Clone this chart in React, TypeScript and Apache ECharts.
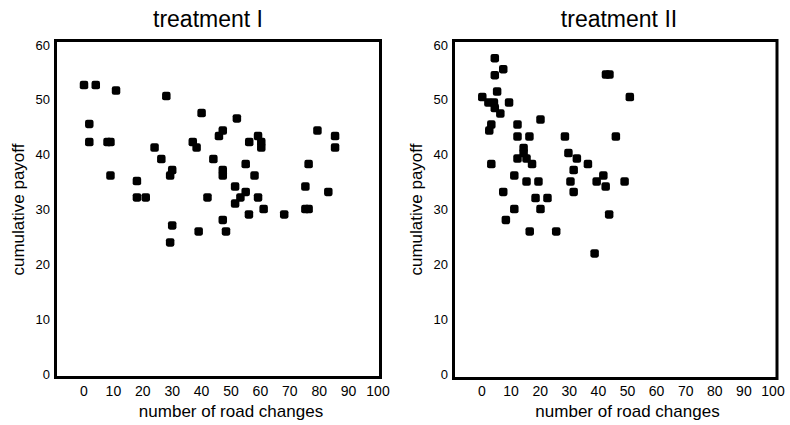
import React, { useEffect, useRef } from "react";
import * as echarts from "echarts";

const titles = ["treatment I", "treatment II"];
const xTickLabels = ["0", "10", "20", "30", "40", "50", "60", "70", "80", "90", "100"];
const yTickLabels = ["0", "10", "20", "30", "40", "50", "60"];
const xName = "number of road changes";
const yName = "cumulative payoff";

const treatment1: [number, number][] = [
  [0, 52.7], [4, 52.7], [10.9, 51.7], [28, 50.7], [1.8, 45.6], [1.8, 42.3], [8, 42.3], [9, 42.3],
  [24, 41.3], [26.3, 39.2], [30, 37.2], [29.3, 36.2], [9, 36.2], [18, 35.2], [40, 47.6], [52, 46.6],
  [37, 42.3], [38.3, 41.3], [47.2, 44.4], [45.9, 43.4], [44, 39.2], [47.2, 37.2], [47.2, 36.2],
  [56.2, 42.3], [59.2, 43.4], [60.3, 42.3], [60.3, 41.3], [55, 38.3], [58, 36.2], [79.4, 44.4],
  [85.4, 43.4], [85.4, 41.3], [76.4, 38.3], [51.4, 34.2], [75.3, 34.2], [83.1, 33.2], [55, 33.2],
  [18, 32.2], [21, 32.2], [42, 32.2], [53.2, 32.2], [59.2, 32.2], [51.4, 31.1], [61.1, 30.1],
  [75.3, 30.1], [76.4, 30.1], [56.1, 29.1], [68.1, 29.1], [47.2, 28.1], [30, 27.1], [39, 26],
  [48.3, 26], [29.3, 24],
];

const treatment2: [number, number][] = [
  [4.4, 57.6], [7.3, 55.6], [4.4, 54.5], [42.6, 54.6], [43.8, 54.6], [5.2, 51.5], [0.1, 50.5],
  [50.8, 50.5], [2.2, 49.5], [4.1, 49.5], [9.3, 49.5], [4.4, 48.5], [6.3, 47.5], [20.1, 46.4],
  [3.2, 45.5], [2.5, 44.4], [12.2, 45.5], [12.2, 43.3], [16.3, 43.3], [28.5, 43.3], [46, 43.3],
  [14.3, 41.2], [14.3, 40.3], [12.2, 39.3], [15.3, 39.3], [17.2, 38.3], [3.2, 38.3], [29.7, 40.3],
  [32.6, 39.3], [36.4, 38.3], [31.5, 37.2], [41.7, 36.2], [11.1, 36.2], [15.3, 35.1], [19.4, 35.1],
  [30.4, 35.1], [39.4, 35.1], [49, 35.1], [42.5, 34.2], [7.3, 33.2], [31.5, 33.2], [18.4, 32.1],
  [22.5, 32.1], [11.1, 30.1], [20.1, 30.1], [43.7, 29.1], [8.2, 28.1], [16.4, 26], [25.5, 26],
  [38.7, 22],
];

const FONT = "'Liberation Sans', Arial, sans-serif";

export default function App() {
  const ref = useRef<HTMLDivElement>(null);
  useEffect(() => {
    if (!ref.current) return;
    const chart = echarts.init(ref.current, undefined, { renderer: "svg" });
    const grids = [
      { left: 84, top: 45, width: 294, height: 331 },
      { left: 482, top: 45, width: 291, height: 331 },
    ];
    const frames = [
      { x: 55.5, y: 40.5, w: 325, h: 337 },
      { x: 453.5, y: 40.5, w: 323.5, h: 338 },
    ];
    const xMin = Number(xTickLabels[0]);
    const xMax = Number(xTickLabels[xTickLabels.length - 1]);
    const yMin = Number(yTickLabels[0]);
    const yMax = Number(yTickLabels[yTickLabels.length - 1]);
    const makeX = (i: number) => ({
      type: "value",
      gridIndex: i,
      min: xMin,
      max: xMax,
      interval: 10,
      name: xName,
      nameLocation: "middle",
      nameGap: 27,
      nameTextStyle: { fontFamily: FONT, fontSize: 17, color: "#000" },
      axisLine: { show: false },
      axisTick: { show: false },
      splitLine: { show: false },
      axisLabel: { margin: 10, fontFamily: FONT, fontSize: 14, color: "#000" },
    });
    const makeY = (i: number) => ({
      type: "value",
      gridIndex: i,
      min: yMin,
      max: yMax,
      interval: 10,
      name: yName,
      nameLocation: "middle",
      nameGap: 57,
      nameTextStyle: { fontFamily: FONT, fontSize: 17, color: "#000" },
      axisLine: { show: false },
      axisTick: { show: false },
      splitLine: { show: false },
      axisLabel: { margin: 34, fontFamily: FONT, fontSize: 13, color: "#000" },
    });
    chart.setOption({
      animation: false,
      backgroundColor: "#fff",
      title: [
        { text: titles[0], left: 203, top: 2, textAlign: "center", textStyle: { fontFamily: FONT, fontSize: 23, fontWeight: "normal", color: "#000" } },
        { text: titles[1], left: 614, top: 2, textAlign: "center", textStyle: { fontFamily: FONT, fontSize: 23, fontWeight: "normal", color: "#000" } },
      ],
      grid: grids,
      xAxis: [makeX(0), makeX(1)],
      yAxis: [makeY(0), makeY(1)],
      graphic: frames.map((f) => ({
        type: "rect",
        shape: { x: f.x, y: f.y, width: f.w, height: f.h },
        style: { fill: "none", stroke: "#000", lineWidth: 3 },
        silent: true,
        z: 10,
      })),
      series: [
        { type: "scatter", xAxisIndex: 0, yAxisIndex: 0, data: treatment1, symbol: "roundRect", symbolSize: 8.5, itemStyle: { color: "#000", opacity: 1 } },
        { type: "scatter", xAxisIndex: 1, yAxisIndex: 1, data: treatment2, symbol: "roundRect", symbolSize: 8.5, itemStyle: { color: "#000", opacity: 1 } },
      ],
    });
    return () => chart.dispose();
  }, []);
  return <div ref={ref} style={{ position: "absolute", left: 0, top: 0, width: 790, height: 425 }} />;
}
